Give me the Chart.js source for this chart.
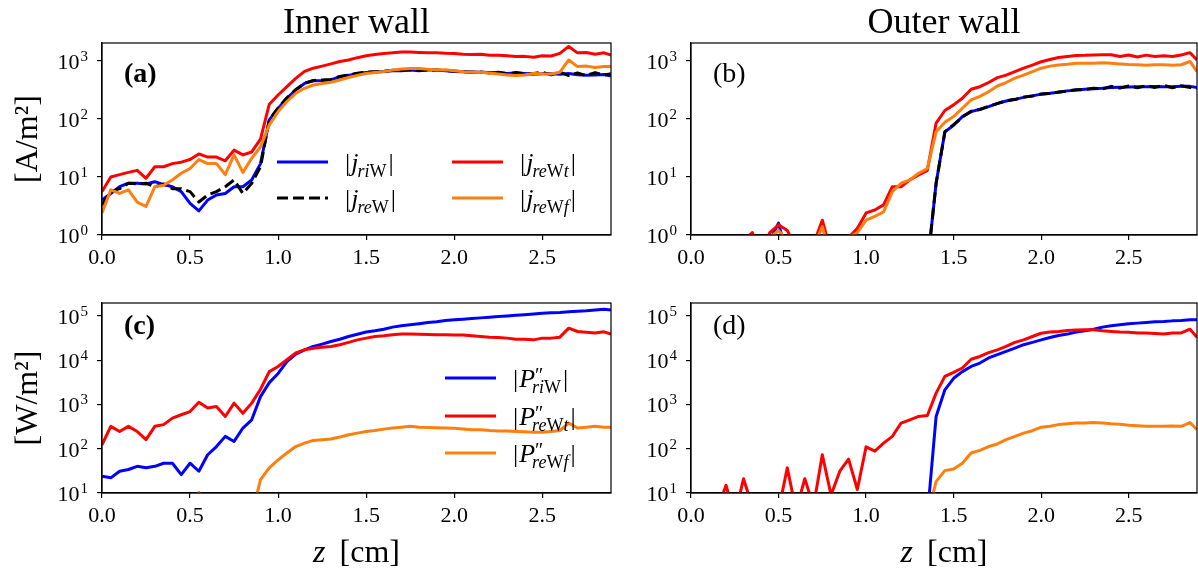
<!DOCTYPE html>
<html>
<head>
<meta charset="utf-8">
<script src="https://cdn.jsdelivr.net/npm/chart.js@4.4.1/dist/chart.umd.min.js"></script>
<style>
  body { margin: 0; background: #fff; width: 1198px; height: 575px; position: relative; overflow: hidden; }
  canvas { position: absolute; }
</style>
</head>
<body>
<canvas id="pa" width="620" height="287" style="left:0px;top:0px"></canvas>
<canvas id="pb" width="578" height="287" style="left:620px;top:0px"></canvas>
<canvas id="pc" width="620" height="288" style="left:0px;top:287px"></canvas>
<canvas id="pd" width="578" height="288" style="left:620px;top:287px"></canvas>
<script>
// z positions [cm]
const z = [0, 0.05, 0.1, 0.15, 0.2, 0.25, 0.3, 0.35, 0.4, 0.45, 0.5, 0.55, 0.6, 0.65, 0.7, 0.75, 0.8, 0.85, 0.9, 0.95,
  1.0, 1.05, 1.1, 1.15, 1.2, 1.25, 1.3, 1.35, 1.4, 1.45, 1.5, 1.55, 1.6, 1.65, 1.7, 1.75, 1.8, 1.85, 1.9, 1.95,
  2.0, 2.05, 2.1, 2.15, 2.2, 2.25, 2.3, 2.35, 2.4, 2.45, 2.5, 2.55, 2.6, 2.65, 2.7, 2.75, 2.8, 2.85, 2.89];
const zTicks = [0, 0.5, 1.0, 1.5, 2.0, 2.5];
const jTicks = [1, 10, 100, 1000];
const pTicks = [10, 100, 1000, 10000, 100000];

// (a) inner wall, current densities [A/m2]
const innerJri = [4.0, 5.2, 6.8, 7.8, 7.8, 7.6, 8.3, 7.4, 6.8, 5.6, 3.5, 2.6, 4.0, 4.9, 5.2, 6.8, 6.8, 8.9, 17, 96,
  152, 227, 316, 410, 455, 460, 470, 535, 565, 610, 630, 645, 660, 680, 680, 700, 680, 700, 700, 680,
  660, 650, 645, 640, 630, 630, 610, 620, 610, 590, 600, 600, 590, 610, 580, 565, 575, 585, 550];
const innerJre = [3.3, 5.6, 6.3, 7.8, 7.6, 7.8, 6.8, 7.6, 6.3, 6.3, 5.6, 3.7, 4.9, 5.6, 6.8, 8.9, 5.2, 7.8, 15, 98,
  155, 232, 320, 415, 460, 470, 480, 540, 570, 615, 640, 650, 665, 690, 690, 705, 690, 700, 690, 680,
  670, 650, 640, 645, 620, 640, 600, 630, 600, 610, 640, 580, 640, 560, 620, 560, 630, 570, 600];
const innerJreT = [5.6, 10, 11, 12, 13, 9.5, 15, 15, 17, 18, 20, 25, 22, 22, 19, 29, 24, 27, 45, 180,
  259, 360, 500, 660, 750, 815, 890, 980, 1040, 1140, 1230, 1290, 1350, 1380, 1430, 1430, 1400, 1380, 1390, 1360,
  1350, 1310, 1290, 1300, 1250, 1260, 1230, 1190, 1200, 1160, 1230, 1220, 1350, 1780, 1380, 1400, 1310, 1380, 1260];
const innerJreF = [2.4, 6.0, 5.2, 6.0, 3.7, 3.1, 6.8, 7.2, 8.9, 11.6, 14, 20, 17, 17, 11, 24, 12, 21, 33, 79,
  134, 200, 277, 338, 385, 410, 430, 470, 520, 565, 610, 635, 660, 695, 730, 745, 740, 720, 700, 705,
  680, 650, 640, 640, 620, 595, 575, 560, 575, 610, 600, 595, 640, 1040, 800, 815, 770, 800, 800];

// (b) outer wall, current densities [A/m2]
const outerJri = [0.3, 0.3, 0.3, 0.3, 0.3, 0.3, 0.3, 0.3, 0.4, 0.8, 1.6, 0.4, 0.3, 0.5, 0.3, 0.3, 0.3, 0.3, 0.3, 0.3,
  0.3, 0.3, 0.3, 0.3, 0.3, 0.3, 0.3, 0.3, 7.8, 60, 78, 110, 134, 147, 163, 186, 204, 218, 236, 250,
  268, 277, 290, 305, 316, 325, 333, 338, 348, 352, 355, 360, 360, 362, 360, 360, 365, 365, 348];
const outerJre = [0.3, 0.3, 0.3, 0.3, 0.3, 0.3, 0.3, 0.3, 0.3, 0.3, 0.4, 0.3, 0.3, 0.3, 0.3, 0.3, 0.3, 0.3, 0.3, 0.3,
  0.3, 0.3, 0.3, 0.3, 0.3, 0.3, 0.3, 0.3, 7.8, 60, 80, 108, 136, 145, 165, 184, 206, 216, 238, 248,
  270, 275, 292, 303, 318, 322, 340, 330, 365, 340, 370, 345, 375, 350, 380, 345, 375, 350, 340];
const outerJreT = [0.2, 0.2, 0.3, 0.2, 0.3, 0.4, 0.8, 1.1, 0.5, 1.1, 1.5, 1.2, 0.6, 0.5, 0.7, 1.8, 0.5, 0.6, 0.9, 1.3,
  2.4, 2.7, 3.3, 6.8, 6.8, 8.9, 10.8, 13, 85, 140, 175, 227, 325, 360, 425, 515, 570, 655, 750, 850,
  970, 1060, 1150, 1190, 1240, 1250, 1270, 1280, 1280, 1190, 1270, 1170, 1260, 1190, 1230, 1190, 1270, 1390, 1040];
const outerJreF = [0.2, 0.2, 0.3, 0.2, 0.3, 0.3, 0.6, 0.9, 0.4, 0.9, 1.2, 0.8, 0.5, 0.4, 0.6, 1.4, 0.4, 0.5, 0.9, 1.1,
  1.8, 2.1, 2.5, 5.6, 7.8, 8.9, 11.6, 14, 60, 88, 110, 153, 213, 245, 295, 370, 425, 505, 570, 655,
  750, 815, 850, 875, 910, 910, 910, 930, 910, 890, 870, 860, 845, 860, 860, 845, 860, 980, 655];

// (c) inner wall, power fluxes [W/m2]
const innerPri = [24, 22, 31, 34, 40, 37, 40, 47, 47, 26, 47, 31, 73, 112, 190, 146, 293, 450, 1500, 3100,
  5000, 9300, 13700, 17100, 20400, 23000, 26400, 29600, 34200, 38500, 43000, 46000, 50000, 55600, 59500, 62600, 66300, 70900, 73300, 78600,
  81300, 84100, 87000, 90000, 93000, 96300, 99600, 103000, 106000, 110000, 115000, 117000, 119000, 124000, 127000, 130000, 136000, 141000, 136000];
const innerPreT = [123, 320, 245, 320, 245, 160, 320, 350, 490, 585, 690, 1120, 830, 900, 535, 1070, 630, 1070, 2200, 5500,
  7200, 10200, 14500, 17100, 18600, 19600, 20400, 22300, 25200, 28700, 31400, 34200, 35400, 37400, 39000, 39000, 38500, 38000, 37400, 37400,
  36900, 36900, 35400, 34200, 33000, 32500, 31400, 29600, 29600, 28700, 31400, 31400, 33000, 52700, 44300, 42500, 41000, 43600, 39000];
const innerPreF = [3, 3, 3, 3, 3, 3, 3, 3, 3, 3, 3, 10.3, 3, 3, 3, 3, 3, 3, 20, 37,
  56, 80, 112, 134, 154, 160, 165, 183, 207, 225, 245, 258, 277, 293, 307, 320, 307, 303, 297, 293,
  288, 280, 268, 268, 258, 252, 252, 245, 240, 234, 234, 245, 258, 380, 293, 307, 320, 307, 307];

// (d) outer wall, power fluxes [W/m2]
const outerPri = [3, 3, 3, 3, 3, 3, 3, 3, 3, 3, 3, 3, 3, 3, 3, 3, 3, 3, 3, 3,
  3, 3, 3, 3, 3, 3, 3, 3, 535, 2140, 3890, 5500, 7200, 8600, 11200, 13300, 15800, 18700, 22300, 25200,
  28700, 32500, 36000, 38700, 43000, 46000, 50000, 55600, 59500, 62600, 66300, 68500, 70900, 73300, 74500, 77000, 78500, 81300, 81300];
const outerPreT = [3, 3, 3, 4, 15, 3, 21, 5, 3, 3, 4, 37, 4, 21, 5, 73, 9, 31, 58, 12,
  110, 88, 134, 190, 380, 450, 535, 560, 1800, 4300, 5300, 6650, 10500, 12100, 14800, 17100, 20400, 25200, 28700, 34200,
  40500, 43000, 44300, 46800, 47700, 48500, 48500, 46000, 44300, 43000, 42500, 41000, 41000, 39800, 38700, 41000, 41000, 50000, 33000];
const outerPreF = [3, 3, 3, 3, 3, 3, 3, 3, 3, 3, 3, 3, 3, 3, 3, 3, 3, 3, 3, 3,
  3, 3, 3, 3, 3, 3, 3, 3, 18, 32, 35, 47, 80, 92, 112, 128, 160, 190, 225, 255,
  307, 320, 350, 365, 380, 380, 390, 380, 365, 355, 340, 330, 320, 320, 320, 325, 320, 390, 268];

const BLUE = '#0000ff', BLACK = '#000000', RED = '#ff0000', ORANGE = '#ff7f0e';
const FONT = '"Liberation Serif", "DejaVu Serif", serif';

function series(values, color, order, math, dash) {
  return {
    data: z.map((x, i) => ({ x: x, y: values[i] })),
    borderColor: color,
    borderWidth: 3,
    borderDash: dash || [],
    borderJoinStyle: 'round',
    pointRadius: 0,
    tension: 0,
    fill: false,
    clip: 0,
    order: order,
    math: math
  };
}

// |j_xx| or |P''_xx| label drawn piece by piece
function drawMath(ctx, x, y, m) {
  ctx.textAlign = 'left';
  ctx.textBaseline = 'alphabetic';
  let cx = x;
  ctx.font = '26px ' + FONT;
  ctx.fillText('|', cx, y);
  cx += ctx.measureText('|').width + 1;
  ctx.font = 'italic 26px ' + FONT;
  ctx.fillText(m.main, cx, y);
  cx += ctx.measureText(m.main).width;
  if (m.prime) {
    ctx.font = '20px ' + FONT;
    ctx.fillText('\u2033', cx, y - 5);
  }
  let sx = m.prime ? cx - 3 : cx - 1;
  m.sub.forEach(p => {
    ctx.font = (p[1] ? 'italic ' : '') + '18px ' + FONT;
    ctx.fillText(p[0], sx, y + 6);
    sx += ctx.measureText(p[0]).width;
  });
  ctx.font = '26px ' + FONT;
  ctx.fillText('|', sx + 2, y);
}

const decor = {
  id: 'decor',
  afterDraw(chart, args, o) {
    const ctx = chart.ctx, a = chart.chartArea, ys = chart.scales.y;
    ctx.save();
    ctx.strokeStyle = '#000';
    ctx.lineWidth = 1.2;
    ctx.strokeRect(a.left, a.top, a.right - a.left, a.bottom - a.top);
    ctx.fillStyle = '#000';
    ctx.textBaseline = 'alphabetic';
    ctx.textAlign = 'left';
    // y tick labels as 10^n
    ys.ticks.forEach(t => {
      const y = ys.getPixelForValue(t.value);
      const e = String(Math.round(Math.log10(t.value)));
      ctx.font = '22px ' + FONT;
      const w1 = ctx.measureText('10').width;
      ctx.font = '15px ' + FONT;
      const w2 = ctx.measureText(e).width;
      const x0 = a.left - 15 - w1 - w2;
      ctx.font = '22px ' + FONT;
      ctx.fillText('10', x0, y + 8);
      ctx.font = '15px ' + FONT;
      ctx.fillText(e, x0 + w1 + 1, y);
    });
    const cx = (a.left + a.right) / 2;
    if (o.title) {
      ctx.font = '36px ' + FONT;
      ctx.textAlign = 'center';
      ctx.fillText(o.title, cx, 33 - o.oy);
      ctx.textAlign = 'left';
    }
    ctx.font = (o.bold ? 'bold ' : '') + '28px ' + FONT;
    ctx.fillText(o.tag, a.left + 22, a.top + o.tagY);
    if (o.xTitle) {
      ctx.font = 'italic 32px ' + FONT;
      const wz = ctx.measureText('z').width + 6;
      ctx.font = '32px ' + FONT;
      const wr = ctx.measureText(' [cm]').width;
      const x0 = cx - (wz + wr) / 2, y = 562 - o.oy;
      ctx.font = 'italic 32px ' + FONT;
      ctx.fillText('z', x0, y);
      ctx.font = '32px ' + FONT;
      ctx.fillText(' [cm]', x0 + wz, y);
    }
    (o.legend || []).forEach(l => {
      const ds = chart.data.datasets[l.ds];
      const x = l.x - o.ox, y = l.y - o.oy;
      ctx.strokeStyle = ds.borderColor;
      ctx.lineWidth = ds.borderWidth;
      ctx.setLineDash(ds.borderDash || []);
      ctx.beginPath();
      ctx.moveTo(x, y);
      ctx.lineTo(x + 51, y);
      ctx.stroke();
      ctx.setLineDash([]);
      drawMath(ctx, x + 68, y + 9, ds.math);
    });
    ctx.restore();
  }
};

function axes(yMin, yMax, yTicks, yTitle, yW, xH) {
  const grid = { drawOnChartArea: false, tickLength: 5, color: '#000', lineWidth: 1.2 };
  const border = { color: '#000', width: 1.2 };
  return {
    x: {
      type: 'linear', min: 0, max: 2.89,
      afterBuildTicks: s => { s.ticks = zTicks.map(v => ({ value: v })); },
      afterFit: s => { s.height = xH; },
      ticks: { font: { family: FONT, size: 22 }, color: '#000', padding: 5, maxRotation: 0, autoSkip: false,
        callback: v => Number(v).toFixed(1) },
      grid: grid, border: border
    },
    y: {
      type: 'logarithmic', min: yMin, max: yMax,
      afterBuildTicks: s => { s.ticks = yTicks.map(v => ({ value: v })); },
      afterFit: s => { s.width = yW; },
      ticks: { display: false },
      grid: grid, border: border,
      title: { display: !!yTitle, text: yTitle, color: '#000', font: { family: FONT, size: 32 }, padding: { top: 9, bottom: 0 } }
    }
  };
}

function panel(id, datasets, scales, pad, deco) {
  return new Chart(document.getElementById(id), {
    type: 'line',
    data: { datasets: datasets },
    options: {
      responsive: false,
      animation: false,
      events: [],
      layout: { padding: pad },
      scales: scales,
      plugins: { legend: { display: false }, tooltip: { enabled: false }, decor: deco }
    },
    plugins: [decor]
  });
}

const J = { main: 'j' }, P = { main: 'P', prime: true };
const subRi = [['ri', 1], ['W', 0]], subRe = [['re', 1], ['W', 0]];
const subReT = [['re', 1], ['W', 0], ['t', 1]], subReF = [['re', 1], ['W', 0], ['f', 1]];

panel('pa', [
  series(innerJri, BLUE, 4, Object.assign({ sub: subRi }, J)),
  series(innerJre, BLACK, 3, Object.assign({ sub: subRe }, J), [11, 5]),
  series(innerJreT, RED, 2, Object.assign({ sub: subReT }, J)),
  series(innerJreF, ORANGE, 1, Object.assign({ sub: subReF }, J))
], axes(1, 2040, jTicks, '[A/m\u00b2]', 102, 52), { top: 43, right: 9, bottom: 0, left: 0 },
{ ox: 0, oy: 0, title: 'Inner wall', tag: '(a)', bold: true, tagY: 39,
  legend: [{ ds: 0, x: 277, y: 162 }, { ds: 1, x: 277, y: 198 }, { ds: 2, x: 452, y: 162 }, { ds: 3, x: 452, y: 198 }] });

panel('pb', [
  series(outerJri, BLUE, 4, Object.assign({ sub: subRi }, J)),
  series(outerJre, BLACK, 3, Object.assign({ sub: subRe }, J), [11, 5]),
  series(outerJreT, RED, 2, Object.assign({ sub: subReT }, J)),
  series(outerJreF, ORANGE, 1, Object.assign({ sub: subReF }, J))
], axes(1, 2040, jTicks, '', 71, 52), { top: 43, right: 1, bottom: 0, left: 0 },
{ ox: 620, oy: 0, title: 'Outer wall', tag: '(b)', bold: false, tagY: 39 });

panel('pc', [
  series(innerPri, BLUE, 3, Object.assign({ sub: subRi }, P)),
  series(innerPreT, RED, 2, Object.assign({ sub: subReT }, P)),
  series(innerPreF, ORANGE, 1, Object.assign({ sub: subReF }, P))
], axes(10, 195000, pTicks, '[W/m\u00b2]', 102, 82), { top: 16, right: 9, bottom: 0, left: 0 },
{ ox: 0, oy: 287, tag: '(c)', bold: true, tagY: 31, xTitle: true,
  legend: [{ ds: 0, x: 445, y: 378 }, { ds: 1, x: 445, y: 416 }, { ds: 2, x: 445, y: 453 }] });

panel('pd', [
  series(outerPri, BLUE, 3, Object.assign({ sub: subRi }, P)),
  series(outerPreT, RED, 2, Object.assign({ sub: subReT }, P)),
  series(outerPreF, ORANGE, 1, Object.assign({ sub: subReF }, P))
], axes(10, 195000, pTicks, '', 71, 82), { top: 16, right: 1, bottom: 0, left: 0 },
{ ox: 620, oy: 287, tag: '(d)', bold: false, tagY: 31, xTitle: true });
</script>
</body>
</html>
